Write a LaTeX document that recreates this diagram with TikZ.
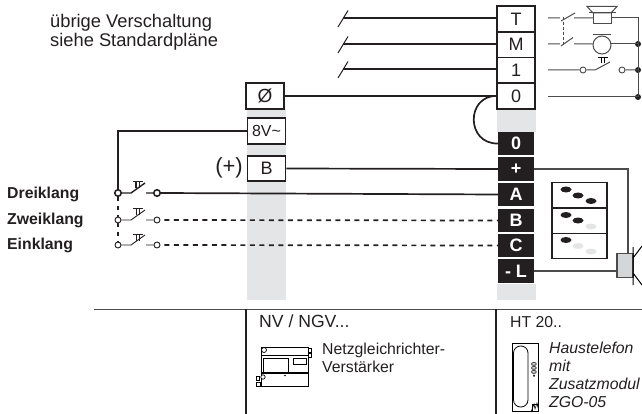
\documentclass[tikz,border=0pt]{standalone}
\usepackage{fontspec}
\setmainfont{Liberation Sans}
\usetikzlibrary{calc,shapes.geometric}
\definecolor{band}{RGB}{228,229,231}
\definecolor{ink}{RGB}{35,31,32}
\definecolor{thin}{RGB}{75,75,75}
\tikzset{
  every node/.style={font=\fontsize{18}{18}\selectfont,text=ink},
  term/.style={draw=ink,line width=1.6pt,fill=white,minimum width=38pt,minimum height=25.5pt,inner sep=0pt},
  blk/.style={fill=ink,minimum width=36pt,minimum height=23.5pt,inner sep=0pt,text=white,font=\fontsize{18}{18}\selectfont\bfseries},
  lbl/.style={anchor=base west,inner sep=0pt},
  txt big/.style={font=\fontsize{18.3}{19}\selectfont},
  bold lbl/.style={anchor=base west,inner sep=0pt,font=\fontsize{15.8}{16}\selectfont\bfseries},
  wire/.style={draw=ink,line width=1.7pt},
  dwire/.style={draw=ink,line width=1.7pt,dash pattern=on 5pt off 4.5pt},
  thinw/.style={draw=thin,line width=1pt},
  frame/.style={draw=ink,line width=1.1pt},
  cto/.style={draw=ink,fill=white,circle,inner sep=0pt,minimum size=6pt,line width=.9pt},
  ctob/.style={draw=ink,fill=white,circle,inner sep=0pt,minimum size=6.5pt,line width=1.6pt},
  jn/.style={fill=ink,circle,inner sep=0pt,minimum size=6pt},
  lamp/.style={ellipse,inner sep=0pt,minimum width=11pt,minimum height=6pt,fill=ink},
}
\newcommand{\pushsym}[3]{% x y style
  \draw[#3] (#1-5,#2-7.5) -- (#1+5,#2-7.5) (#1-2,#2-7.5) -- (#1-2,#2-1) (#1+1.5,#2-7.5) -- (#1+1.5,#2-1);
}
\begin{document}
\begin{tikzpicture}[x=1pt,y=-1pt]
\useasboundingbox (0,0) rectangle (642,414);
% bands
\fill[band] (247,108) rectangle (286,300);
\fill[band] (497,108) rectangle (536,132);
\fill[band] (497,284) rectangle (536,300);
% terminals right column
\node[term] (T) at (516,19) {T};
\node[term] (M) at (516,44.7) {M};
\node[term] (one) at (516,70.3) {1};
\node[term] (zero) at (516,96) {0};
\node[blk] (b0) at (516,143.5) {0};
\node[blk] (bp) at (516,169) {+};
\node[blk] (bA) at (516,194.5) {A};
\node[blk] (bB) at (516,220.5) {B};
\node[blk] (bC) at (516,245.5) {C};
\node[blk] (bL) at (516,271) {- L};
% left terminals
\node[term,font=\fontsize{19}{19}\selectfont] (phi) at (265,96) {Ø};
\node[term,minimum height=26pt,font=\fontsize{16}{16}\selectfont] (v8) at (266.5,131) {8V\textasciitilde};
\node[term] (Bx) at (266.5,168.5) {B};
\node[anchor=east,inner sep=0pt,font=\fontsize{22}{22}\selectfont] (plus) at (243,168) {(+)};
% free ends of the supply lines
\coordinate (t0) at (343,18);
\coordinate (m0) at (343,44);
\coordinate (e0) at (343,69);
\draw[wire] (t0) -- (t0-|T.west);
\draw[wire] (m0) -- (m0-|M.west);
\draw[wire] (e0) -- (e0-|one.west);
\foreach \c in {t0,m0,e0} \draw[ink,line width=1pt] ($(\c)+(-5,9)$) -- ($(\c)+(5,-7.5)$);
\draw[wire] (phi.east) -- (zero.west);
\draw[wire] (zero.west) .. controls (466,96) and (466,144) .. (b0.west);
\draw[wire] (Bx.east) -- (bp.west);
% bell switches
\node[ctob] (d1) at (118,193) {};
\node[ctob] (d2) at (157,193) {};
\node[cto] (z1) at (118,220) {};
\node[cto] (z2) at (157,220) {};
\node[cto] (e1) at (118,245) {};
\node[cto] (e2) at (157,245) {};
\draw[wire] (v8.west) -- (118,131) -- (d1.north);
\draw[wire] (d2.east) -- (bA.west);
\draw[dwire] (z2.east)++(4,0) -- (bB.west);
\draw[dwire] (e2.east)++(4,0) -- (bC.west);
\draw[ink,line width=1.7pt,dash pattern=on 4pt off 5pt] (d1.south) -- (z1.north);
\draw[ink,line width=1.7pt,dash pattern=on 4pt off 5pt] (z1.south) -- (e1.north);
\draw[ink,line width=1.4pt] (d1.east) -- (131,193) -- (145,183) (146,193) -- (d2.west);
\draw[ink,line width=.9pt] (z1.east) -- (131,220) -- (145,210) (146,220) -- (z2.west);
\draw[ink,line width=.9pt] (e1.east) -- (131,245) -- (145,235) (146,245) -- (e2.west);
\pushsym{138}{189}{ink,line width=1.1pt}
\pushsym{138}{215.5}{ink,line width=.8pt}
\pushsym{138}{241.5}{ink,line width=.8pt}
% labels
\node[lbl,txt big] (tx1) at (50,28) {übrige Verschaltung};
\node[lbl,txt big] (tx2) at (50,47) {siehe Standardpläne};
\node[bold lbl] (l1) at (7,198) {Dreiklang};
\node[bold lbl] (l2) at (7,224) {Zweiklang};
\node[bold lbl] (l3) at (7,249) {Einklang};
% right hand side circuit
\node[jn] (j1) at (638,44) {};
\node[jn] (j2) at (638,70) {};
\node[jn] (j3) at (638,97) {};
\draw[thinw] (548,18) -- (560,18) (561,21) -- (575,13) (574,18) -- (593,18);
\draw[thinw,fill=white] (593,13) rectangle (611,24);
\draw[thinw] (587,6.5) -- (617,6.5) -- (611,13) -- (593,13) -- cycle;
\draw[thinw] (589,13) -- (616,13);
\draw[thinw] (611,18) -- (638,18) -- (j3.center);
\draw[thinw] (548,44) -- (560,44) (561,46) -- (573,37.5) (574,44) -- (592.5,44);
\draw[thinw] (602,45) circle[radius=9];
\draw[thinw] (593,35) -- (611,35);
\draw[thinw] (611,44) -- (j1.center);
\draw[thinw,densely dashed] (563,17) -- (563,46);
\node[cto,draw=thin] (c1) at (583,70) {};
\node[cto,draw=thin] (c2) at (622,70) {};
\draw[thinw] (548,70) -- (c1.west) (c1.east) -- (595,70) -- (610,62) (619,70) -- (c2.west) (c2.east) -- (j2.center);
\pushsym{603}{64.5}{thin,line width=.8pt}
\draw[thinw] (548,97) -- (j3.center);
% speaker and lamps panel
\draw[frame] (552,182.5) rectangle (607,258.5);
\draw[frame] (552,208) -- (607,208) (552,233.5) -- (607,233.5);
\node[lamp] (a1) at (566,189.5) {};
\node[lamp] (a2) at (578,195.5) {};
\node[lamp] (a3) at (591,201) {};
\node[lamp] (b1) at (566,215) {};
\node[lamp] (b2) at (578,220.5) {};
\node[lamp,fill=band] (b3) at (591,226.5) {};
\node[lamp] (c1x) at (566,240) {};
\node[lamp,fill=band] (c2x) at (578,246) {};
\node[lamp,fill=band] (c3x) at (591,251.5) {};
\node[draw=thin,line width=1.2pt,fill=band!85!gray,minimum width=16pt,minimum height=23.5pt,inner sep=0pt] (spk) at (625,265.5) {};
\draw[draw=thin,line width=1.2pt] (bp.east) -- (628,169) -- ($(spk.north)+(3,0)$);
\draw[draw=thin,line width=1.2pt] (bL.east) -- (bL.east-|spk.west);
\draw[thin,line width=1pt] (633,247) -- (633,285) (633,258) -- (642,246) (633,273) -- (642,285);
% bottom table
\coordinate (h0) at (94,309);
\coordinate (h1) at (642,309);
\draw[draw=thin,line width=1pt] (h0) -- (h1);
\draw[frame,line width=1.3pt] (246,309) -- (246,414) (496,309) -- (496,414);
\node[lbl,font=\fontsize{17.6}{18}\selectfont] (nv) at (259,327) {NV / NGV...};
\node[lbl,font=\fontsize{15.8}{18}\selectfont] (ht) at (510,327) {HT 20..};
\node[anchor=west,inner sep=0pt,align=left,text width=130pt,font=\fontsize{15.8}{18}\selectfont] (net) at (322,358) {Netzgleichrichter-\\Verstärker};
\node[anchor=west,inner sep=0pt,align=left,text width=100pt,font=\fontsize{15.8}{18}\selectfont\itshape] (hau) at (549,375) {Haustelefon\\mit\\Zusatzmodul\\ZGO-05};
% amplifier icon
\draw[thin,line width=.8pt] (261,347) rectangle (308,386);
\draw[thin,line width=.8pt] (261,355) -- (308,355);
\draw[thin,line width=1.2pt] (261,373) -- (308,373);
\draw[thin,line width=.7pt] (263,358) rectangle (288,372);
\draw[thin,line width=.6pt] (293,358) rectangle (306,364);
\draw[thin,line width=.7pt,fill=white] (264,350) circle[radius=2.5];
\draw[thin,line width=.7pt,fill=white] (308,348) rectangle (311,352) (308,353) rectangle (311,357);
\draw[thin,line width=.7pt,fill=white] (256,376) rectangle (259,380) (256,382) rectangle (260,386);
\draw[thin,line width=.7pt,fill=white] (263,377) circle[radius=2.2];
\fill[thin] (285,375.5) circle[radius=.8];
% phone icon
\draw[thin,line width=.8pt] (512,343) rectangle (538,411);
\draw[thin,line width=.8pt,rounded corners=7pt] (513.5,346) rectangle (528,407);
\node[inner sep=0pt,rotate=90,font=\fontsize{7.5}{8}\selectfont\bfseries] (ph) at (534,370) {•000};
\draw[thin,line width=.6pt] (532,404) rectangle (538,411);
\draw[thin,line width=.6pt] (531,412) -- (534,404) -- (535,409) -- (537,403) -- (538,408);
\end{tikzpicture}
\end{document}
